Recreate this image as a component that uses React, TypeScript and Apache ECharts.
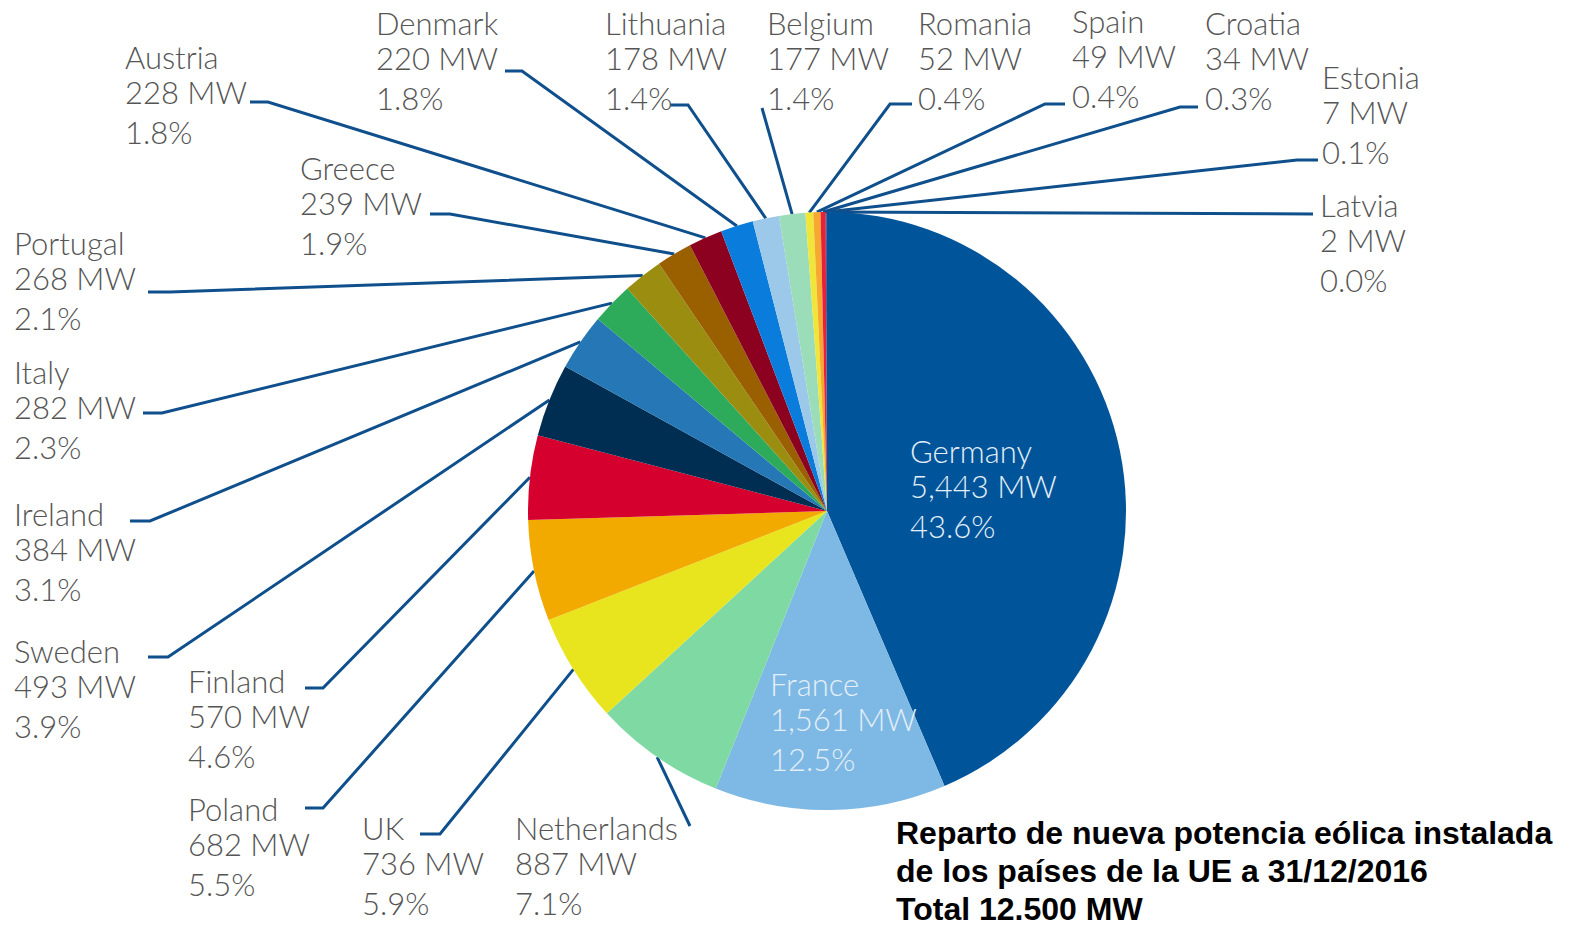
import React, { useEffect, useRef } from "react";
import * as echarts from "echarts";

const countries = ["Germany", "France", "Netherlands", "UK", "Poland", "Finland", "Sweden", "Ireland", "Italy", "Portugal", "Greece", "Austria", "Denmark", "Lithuania", "Belgium", "Romania", "Spain", "Croatia", "Estonia", "Latvia"];
const capacityMW = [5443, 1561, 887, 736, 682, 570, 493, 384, 282, 268, 239, 228, 220, 178, 177, 52, 49, 34, 7, 2];
const sliceColors = ["#00559a", "#7db9e4", "#7ed9a3", "#e8e51e", "#f2a900", "#d6002f", "#002d52", "#2577b5", "#2daa5a", "#9b8d10", "#9a6000", "#8c0020", "#0a7cdb", "#9cc8ea", "#9addb8", "#f0e63a", "#f7a830", "#e8203a", "#2a3a6a", "#6a2a8a"];
const titleLines = ["Reparto de nueva potencia eólica instalada", "de los países de la UE a 31/12/2016", "Total 12.500 MW"];

// layout of labels: [textLeft, firstLineCenterY, bendX, bendY, endX, endY]; two entries = inside label without line
const labelPlacement: number[][] = [
  [910, 451],
  [770, 684],
  [515, 828, 690, 826, 690, 826],
  [362, 828, 440, 834, 420, 834],
  [188, 809, 323, 808, 305, 808],
  [188, 681, 323, 688, 305, 688],
  [14, 651, 168, 657, 148, 657],
  [14, 514, 150, 521, 130, 521],
  [14, 372, 162, 413, 143, 413],
  [14, 243, 170, 292, 148, 292],
  [300, 168, 450, 214, 430, 214],
  [125, 57, 268, 102, 250, 102],
  [376, 23, 522, 71, 505, 71],
  [605, 23, 688, 105, 670, 105],
  [767, 23, 762, 108, 762, 108],
  [918, 23, 890, 104, 912, 104],
  [1072, 21, 1045, 104, 1065, 104],
  [1205, 23, 1180, 107, 1198, 107],
  [1322, 77, 1297, 160, 1318, 160],
  [1320, 205, 1313, 214, 1313, 214],
];

export default function App() {
  const ref = useRef<HTMLDivElement>(null);
  useEffect(() => {
    document.body.style.margin = "0";
    const chart = echarts.init(ref.current!, undefined, { renderer: "svg" });
    const total = capacityMW.reduce((a, b) => a + b, 0);
    const data = countries.map((name, i) => {
      const inside = labelPlacement[i].length === 2;
      return {
        name,
        value: capacityMW[i],
        itemStyle: { color: sliceColors[i] },
        label: inside ? { color: "#e4eef7" } : undefined,
        labelLine: inside ? { show: false } : undefined,
      };
    });
    chart.setOption({
      animation: false,
      backgroundColor: "#ffffff",
      title: {
        text: titleLines.join("\n"),
        left: 896,
        top: 814,
        padding: 0,
        textStyle: {
          fontFamily: "Liberation Sans, Arial, sans-serif",
          fontWeight: "bold",
          fontSize: 32,
          lineHeight: 38,
          color: "#000000",
        },
      },
      series: [
        {
          type: "pie",
          center: [827, 511],
          radius: 299,
          startAngle: 90,
          clockwise: true,
          avoidLabelOverlap: false,
          data,
          itemStyle: { borderWidth: 0 },
          label: {
            show: true,
            position: "outside",
            fontFamily: "Lato, 'Noto Sans', sans-serif",
            fontWeight: 300,
            fontSize: 31,
            color: "#555555",
            formatter: (p: any) =>
              `{a|${p.name}}\n{b|${p.value.toLocaleString("en-US")} MW}\n{c|${((p.value / total) * 100).toFixed(1)}%}`,
            rich: {
              a: { lineHeight: 34 },
              b: { lineHeight: 36 },
              c: { lineHeight: 44 },
            },
          },
          labelLine: {
            show: true,
            lineStyle: { color: "#0f4f8c", width: 3 },
          },
          emphasis: { disabled: true },
          labelLayout: (params: any) => {
            const pl = labelPlacement[params.dataIndex];
            const res: any = { x: pl[0], y: pl[1] - 17, align: "left", verticalAlign: "top" };
            if (pl.length > 2 && params.labelLinePoints) {
              const p0 = params.labelLinePoints[0];
              res.labelLinePoints = [
                [p0[0], p0[1]],
                [pl[2], pl[3]],
                [pl[4], pl[5]],
              ];
            }
            return res;
          },
        },
      ],
    });
    return () => chart.dispose();
  }, []);
  return <div ref={ref} style={{ position: "absolute", left: 0, top: 0, width: 1571, height: 926 }} />;
}
